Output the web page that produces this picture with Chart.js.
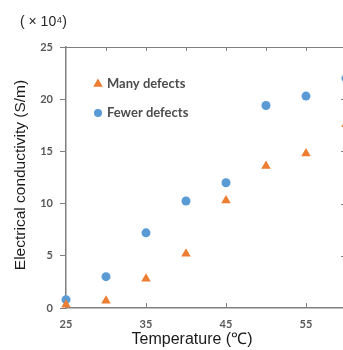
<!DOCTYPE html>
<html>
<head>
<meta charset="utf-8">
<script src="https://cdn.jsdelivr.net/npm/chart.js@4/dist/chart.umd.min.js"></script>
<style>
  html, body { margin: 0; padding: 0; background: #fff; overflow: hidden; }
  #wrap { position: absolute; left: 0; top: 0; width: 360px; height: 350px; }
</style>
</head>
<body>
<div id="wrap"><canvas id="chart"></canvas></div>
<script>
// temperatures (°C)
const temps = [25, 30, 35, 40, 45, 50, 55, 60];
// conductivity, x10^4 S/m
const manyDefects = [0.3, 0.7, 2.8, 5.2, 10.3, 13.6, 14.8, 17.6];
const fewerDefects = [0.8, 3.0, 7.2, 10.25, 12.0, 19.4, 20.3, 22.0];
const xTicks = [25, 35, 45, 55];
const yTicks = [0, 5, 10, 15, 20, 25];
const seriesNames = ["Many defects", "Fewer defects"];

const ORANGE = "#ED7D31";
const BLUE = "#5B9BD5";
const AXIS = "#808080";
const LABEL = "#595959";
const tickFont = { family: "Lato, 'Liberation Sans', sans-serif", size: 11, weight: "bold" };

const toPoints = (ys) => temps.map((t, i) => ({ x: t, y: ys[i] }));

// frame, inner ticks, titles and legend
const decor = {
  id: "decor",
  afterDatasetsDraw(chart) {
    const { ctx, chartArea: a, scales } = chart;
    const xs = scales.x, ys = scales.y;
    ctx.save();
    ctx.strokeStyle = AXIS;
    ctx.lineWidth = 1;
    // top border with downward ticks
    ctx.beginPath();
    ctx.moveTo(a.left, a.top + 0.5);
    ctx.lineTo(a.right, a.top + 0.5);
    for (let v = 30; v <= 60; v += 5) {
      const px = Math.round(xs.getPixelForValue(v)) + 0.5;
      ctx.moveTo(px, a.top);
      ctx.lineTo(px, a.top + 4);
    }
    // right border with left ticks
    ctx.moveTo(a.right + 0.5, a.top);
    ctx.lineTo(a.right + 0.5, a.bottom);
    for (let v = 5; v <= 20; v += 5) {
      const py = Math.round(ys.getPixelForValue(v)) + 0.5;
      ctx.moveTo(a.right, py);
      ctx.lineTo(a.right - 5, py);
    }
    // bottom axis inner ticks
    xTicks.slice(1).forEach((v) => {
      const px = Math.round(xs.getPixelForValue(v)) + 0.5;
      ctx.moveTo(px, a.bottom);
      ctx.lineTo(px, a.bottom - 5);
    });
    ctx.stroke();

    // titles
    ctx.fillStyle = "#1a1a1a";
    ctx.font = "16px 'Liberation Sans', Arial, sans-serif";
    ctx.textAlign = "center";
    ctx.textBaseline = "middle";
    ctx.fillText("Temperature (\u2103)", 192, 340);
    ctx.save();
    ctx.translate(21, 175);
    ctx.rotate(-Math.PI / 2);
    ctx.font = "15.5px 'Liberation Sans', Arial, sans-serif";
    ctx.fillText("Electrical conductivity (S/m)", 0, 0);
    ctx.restore();
    ctx.fillStyle = "#262626";
    ctx.font = "14px 'Liberation Sans', Arial, sans-serif";
    ctx.textAlign = "left";
    ctx.fillText("( \u00d7 10\u2074)", 20, 22);

    // legend
    const entries = [
      { name: seriesNames[0], color: ORANGE, style: "triangle", r: 5.5, y: 84 },
      { name: seriesNames[1], color: BLUE, style: "circle", r: 4, y: 113 },
    ];
    ctx.font = "bold 13px Lato, 'Liberation Sans', sans-serif";
    entries.forEach((e) => {
      ctx.fillStyle = e.color;
      Chart.helpers.drawPoint(ctx, { pointStyle: e.style, radius: e.r, borderWidth: 0, rotation: 0 }, 98, e.y);
      ctx.fillStyle = "#4d4d4d";
      ctx.fillText(e.name, 107, e.y);
    });
    ctx.restore();
  },
};

new Chart(document.getElementById("chart"), {
  type: "scatter",
  data: {
    datasets: [
      {
        label: seriesNames[0],
        data: toPoints(manyDefects),
        pointStyle: "triangle",
        pointRadius: 5.5,
        pointHoverRadius: 5.5,
        backgroundColor: ORANGE,
        borderColor: ORANGE,
        borderWidth: 0,
        clip: { left: 10, top: 10, right: 10, bottom: 0 },
      },
      {
        label: seriesNames[1],
        data: toPoints(fewerDefects),
        pointStyle: "circle",
        pointRadius: 4.5,
        pointHoverRadius: 4.5,
        backgroundColor: BLUE,
        borderColor: BLUE,
        borderWidth: 0,
        clip: { left: 10, top: 10, right: 10, bottom: 0 },
      },
    ],
  },
  options: {
    responsive: true,
    maintainAspectRatio: false,
    animation: false,
    events: [],
    layout: { padding: { left: 0, top: 47, right: 14, bottom: 0 } },
    plugins: { legend: { display: false }, tooltip: { enabled: false } },
    scales: {
      x: {
        type: "linear",
        min: 25,
        max: 60,
        afterBuildTicks: (s) => { s.ticks = xTicks.map((v) => ({ value: v })); },
        afterFit: (s) => { s.height = 42; },
        grid: { drawOnChartArea: false, drawTicks: false },
        border: { display: true, color: AXIS, width: 1.5 },
        ticks: { color: LABEL, font: tickFont, padding: 10, maxRotation: 0 },
      },
      y: {
        min: 0,
        max: 25,
        afterBuildTicks: (s) => { s.ticks = yTicks.map((v) => ({ value: v })); },
        afterFit: (s) => { s.width = 66; },
        grid: { drawOnChartArea: false, drawTicks: true, tickLength: 6, color: AXIS },
        border: { display: true, color: AXIS, width: 1.5 },
        ticks: { color: LABEL, font: tickFont, padding: 7 },
      },
    },
  },
  plugins: [decor],
});
</script>
</body>
</html>
